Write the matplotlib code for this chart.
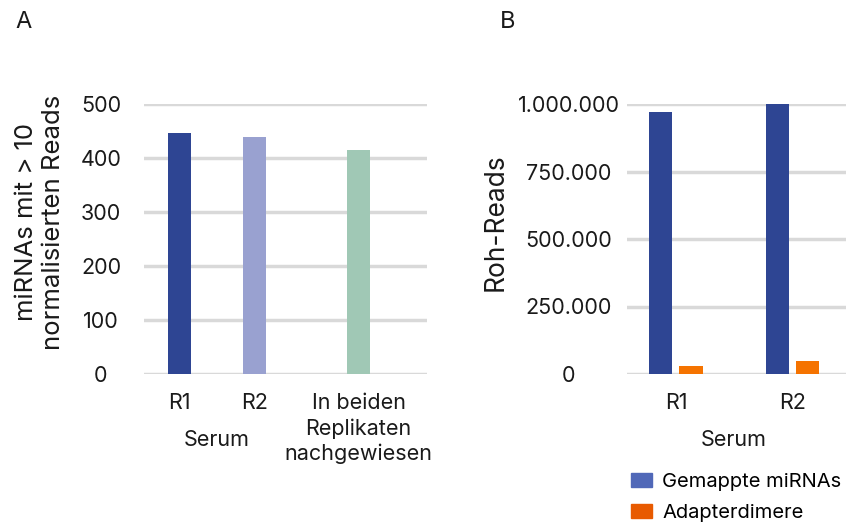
import matplotlib
matplotlib.use("Agg")
import matplotlib.pyplot as plt
from matplotlib.patches import Patch

plt.rcParams['font.family'] = ['Inter', 'DejaVu Sans']

# Panel A data
a_labels = ["R1", "R2", "In beiden\nReplikaten\nnachgewiesen"]
a_values = [446, 439, 415]
a_colors = ["#2E4593", "#99A1D0", "#A0C8B5"]

# Panel B data
b_groups = ["R1", "R2"]
b_mapped = [970000, 1000000]
b_dimers = [30000, 48000]
b_ticks = [0, 250000, 500000, 750000, 1000000]
b_ticklabels = ["0", "250.000", "500.000", "750.000", "1.000.000"]

W, H = 853, 525
FS = 15.5
TXT = "#1a1a1a"
fig = plt.figure(figsize=(W / 100, H / 100), dpi=100)


def px_axes(x0, y0, x1, y1):
    return fig.add_axes([x0 / W, 1 - y1 / H, (x1 - x0) / W, (y1 - y0) / H])


def style(ax):
    for s in ax.spines.values():
        s.set_visible(False)
    ax.yaxis.grid(True, color="#D9D9D9", linewidth=2.5)
    ax.set_axisbelow(True)
    ax.tick_params(length=0, labelsize=FS, colors=TXT)


# ---- A ----
ax = px_axes(144, 104, 427, 374)
style(ax)
xa = [0, 1, 2.39]
ax.bar(xa, a_values, width=0.31, color=a_colors, zorder=3)
ax.set_ylim(0, 500)
ax.set_xlim(-0.47, 3.3)
ax.set_yticks([0, 100, 200, 300, 400, 500])
for t in ax.get_yticklabels():
    t.set_horizontalalignment("center")
ax.tick_params(axis="y", pad=31)
ax.set_xticks(xa)
ax.set_xticklabels(a_labels, linespacing=1.3, va="top")
ax.tick_params(axis="x", pad=14)
ax.text(0.5, -0.245, "Serum", transform=ax.get_xaxis_transform(),
        ha="center", va="center", fontsize=FS, color=TXT)
fig.text(40 / W, 1 - 222 / H, "miRNAs mit > 10\nnormalisierten Reads",
         rotation=90, ha="center", va="center", fontsize=18.5,
         linespacing=1.2, color=TXT)
fig.text(15 / W, 1 - 22 / H, "A", fontsize=17, va="center", color=TXT)

# ---- B ----
ax = px_axes(627, 104, 846, 374)
style(ax)
xb = [0, 1]
w = 0.2
gap = 0.06
ax.bar([x - (w + gap) / 2 for x in xb], b_mapped, width=w, color="#2E4593", zorder=3)
ax.bar([x + (w + gap) / 2 for x in xb], b_dimers, width=w, color="#F57300", zorder=3)
ax.set_ylim(0, 1000000)
ax.set_xlim(-0.42, 1.46)
ax.set_yticks(b_ticks)
ax.set_yticklabels(b_ticklabels)
for t in ax.get_yticklabels():
    t.set_horizontalalignment("center")
ax.tick_params(axis="y", pad=42)
ax.set_xticks(xb)
ax.set_xticklabels(b_groups)
ax.tick_params(axis="x", pad=14)
ax.text(0.5, -0.245, "Serum", transform=ax.get_xaxis_transform(),
        ha="center", va="center", fontsize=FS, color=TXT)
fig.text(496 / W, 1 - 222 / H, "Roh-Reads", rotation=90, ha="center",
         va="center", fontsize=19, color=TXT)
fig.text(500 / W, 1 - 22 / H, "B", fontsize=17, va="center", color=TXT)

handles = [Patch(color="#5068B8", label="Gemappte miRNAs"),
           Patch(color="#E85A00", label="Adapterdimere")]
fig.legend(handles=handles, loc="upper left",
           bbox_to_anchor=(629 / W, 1 - 471 / H), frameon=False,
           fontsize=14.5, handlelength=1.05, handleheight=0.7,
           handletextpad=0.5, labelspacing=0.65, borderpad=0.1,
           borderaxespad=0)

fig.savefig("out.png", dpi=100)
